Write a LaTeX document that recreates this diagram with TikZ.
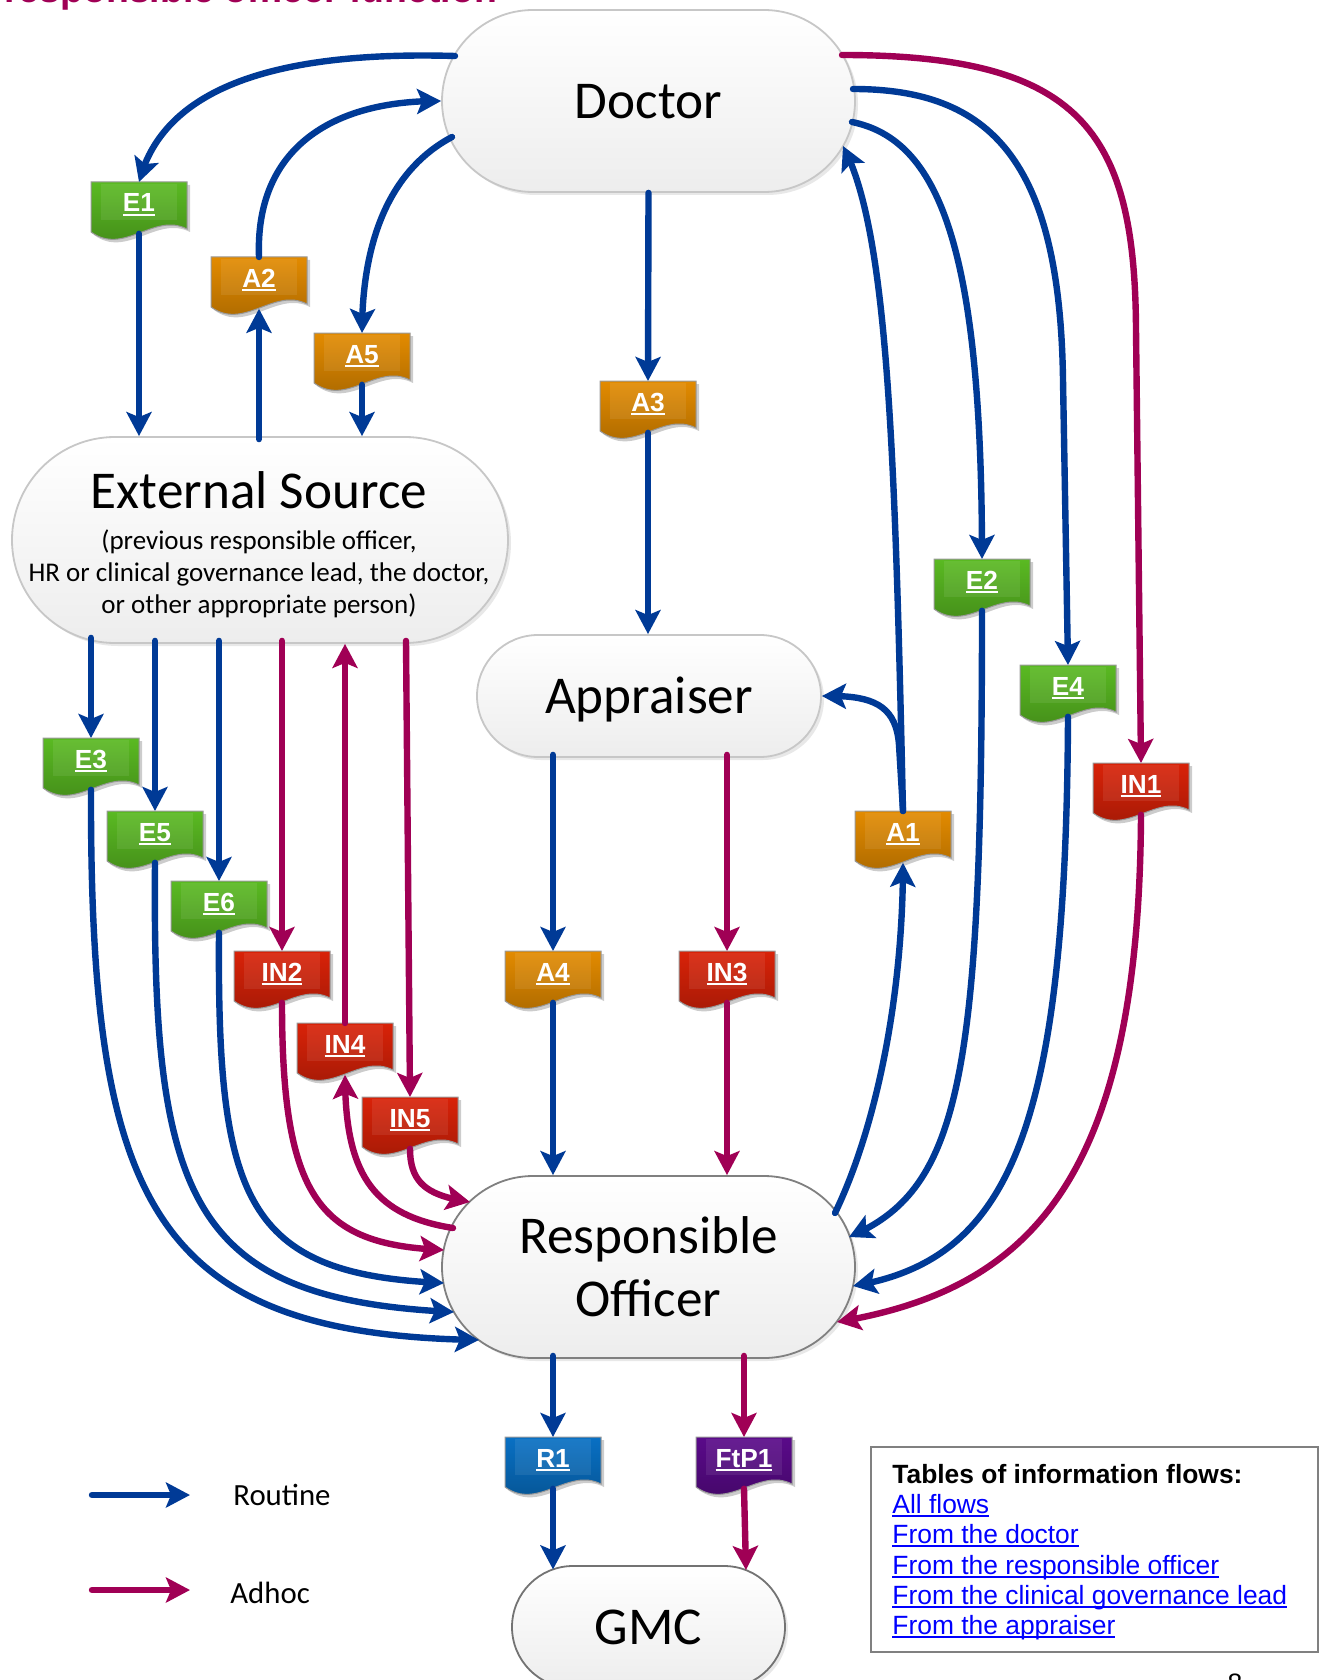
\documentclass[tikz,border=0pt]{standalone}
\usepackage{fontspec}
\setmainfont{Carlito}
\newfontfamily\arialf{Liberation Sans}
\usetikzlibrary{arrows.meta,bending,shadows}
\definecolor{cblue}{RGB}{0,58,150}
\definecolor{cadhoc}{RGB}{160,0,85}
\definecolor{tgreen}{RGB}{90,186,34}
\definecolor{torange}{RGB}{227,139,0}
\definecolor{tred}{RGB}{217,34,8}
\definecolor{tblue}{RGB}{8,112,196}
\definecolor{tpurple}{RGB}{90,10,138}
\definecolor{linkblue}{RGB}{0,0,255}
\definecolor{boxgray}{RGB}{128,128,128}
\newlength\ulwd
\newcommand\tagul[1]{\settowidth\ulwd{#1}\makebox[0pt][l]{\rule[-2.2pt]{\ulwd}{1.3pt}}#1}
\newcommand\linkul[1]{\settowidth\ulwd{#1}\makebox[0pt][l]{\rule[-2pt]{\ulwd}{1pt}}#1}
\newcommand\flowtag[5]{%
  \begin{scope}[shift={(#2,#3)}]
    \fill[black,opacity=.2] (-45,3) -- (51,3) -- (51,50) .. controls (18,33) and (-12,77) .. (-45,53) -- cycle;
    \shade[top color=#4, middle color=#4, bottom color=#4!72!black, draw=black!40, line width=.5pt] (-48,0) -- (48,0) -- (48,47) .. controls (15,30) and (-15,74) .. (-48,50) -- cycle;
    \fill[white,opacity=.08] (-38,2) rectangle (38,38);
  \end{scope}
  \node[tagbox] (#1) at (#2,#3) {};
  \node[taglabel] (#1-l) at ([yshift=-15pt]#1.north) {\tagul{#5}};
}
\begin{document}
\begin{tikzpicture}[x=0.5pt,y=-0.5pt,
  bignode/.style={rectangle, inner sep=0pt, top color=white, bottom color=black!7, line width=0.9pt,
     drop shadow={shadow xshift=1.5pt,shadow yshift=-1.5pt,opacity=0.18},
     font=\fontsize{26.6}{31.5}\selectfont},
  onel/.style={text height=17.1pt, text depth=0pt},
  tagbox/.style={anchor=north, minimum width=48pt, minimum height=25.5pt, inner sep=0pt},
  taglabel/.style={anchor=base, text=white, font=\arialf\bfseries\fontsize{13.1}{15}\selectfont, inner sep=0pt},
  routine/.style={draw=cblue, line width=3.2pt, line cap=round, -{Stealth[length=12pt,width=12.5pt,inset=2.5pt]}},
  adhocarrow/.style={draw=cadhoc, line width=3.2pt, line cap=round, -{Stealth[length=12pt,width=12.5pt,inset=2.5pt]}},
  plaintxt/.style={anchor=base, inner sep=0pt},
  subtxt/.style={anchor=base, inner sep=0pt, font=\fontsize{13.5}{16}\selectfont},
  boxtxt/.style={anchor=base west, inner sep=0pt},
  linktxt/.style={anchor=base west, inner sep=0pt, text=linkblue, font=\arialf\fontsize{13.2}{15}\selectfont}
]
\fill[white] (0,0) rectangle (1324,1680);
\useasboundingbox (0,0) rectangle (1324,1680);

% title (cut off at top, as in the reference)
\node[boxtxt, text=cadhoc, font=\arialf\bfseries\fontsize{18.7}{20}\selectfont] (title) at (4,3) {responsible officer function};

% main nodes
\node[bignode, onel, draw=black!22, minimum width=206.5pt, minimum height=91pt, rounded corners=45.5pt] (doc) at (648.5,101) {Doctor};
\node[bignode, draw=black!22, minimum width=248pt, minimum height=103pt, rounded corners=51.5pt] (ext) at (260,540) {};
\node[plaintxt, font=\fontsize{26.6}{31}\selectfont] (extt) at (259,508) {External Source};
\node[subtxt] (exts1) at (259,549) {(previous responsible officer,};
\node[subtxt] (exts2) at (259,581) {HR or clinical governance lead, the doctor,};
\node[subtxt] (exts3) at (259,613) {or other appropriate person)};
\node[bignode, onel, draw=black!22, minimum width=172pt, minimum height=61pt, rounded corners=30.5pt] (appr) at (649,696) {Appraiser};
\node[bignode, draw=black!50, align=center, minimum width=206.5pt, minimum height=91pt, rounded corners=45.5pt] (ro) at (648.5,1267) {Responsible\\Officer};
\node[bignode, onel, draw=black!55, minimum width=136.5pt, minimum height=61pt, rounded corners=30.5pt] (gmc) at (648.5,1627) {GMC};

% tags
\flowtag{E1}{139}{182}{tgreen}{E1}
\flowtag{A2}{259}{257}{torange}{A2}
\flowtag{A5}{362}{333}{torange}{A5}
\flowtag{A3}{648}{381}{torange}{A3}
\flowtag{E2}{982}{559}{tgreen}{E2}
\flowtag{E4}{1068}{665}{tgreen}{E4}
\flowtag{IN1}{1141}{763}{tred}{IN1}
\flowtag{A1}{903}{811}{torange}{A1}
\flowtag{E3}{91}{738}{tgreen}{E3}
\flowtag{E5}{155}{811}{tgreen}{E5}
\flowtag{E6}{219}{881}{tgreen}{E6}
\flowtag{IN2}{282}{951}{tred}{IN2}
\flowtag{IN4}{345}{1023}{tred}{IN4}
\flowtag{IN5}{410}{1097}{tred}{IN5}
\flowtag{A4}{553}{951}{torange}{A4}
\flowtag{IN3}{727}{951}{tred}{IN3}
\flowtag{R1}{553}{1437}{tblue}{R1}
\flowtag{FtP1}{744}{1437}{tpurple}{FtP1}

% routine connectors
\draw[routine] ([shift={(-193.5,-45)}]doc.center) .. controls (250,50) and (160,100) .. (E1.north);
\draw[routine] (E1.south) -- (E1.south |- ext.north);
\draw[routine] ([yshift=-1.5pt]A2.north |- ext.north) -- (A2.south);
\draw[routine] (A2.north) .. controls (255,150) and (330,100) .. (doc.west);
\draw[routine] ([shift={(-196.5,36)}]doc.center) .. controls (390,170) and (362,240) .. (A5.north);
\draw[routine] (A5.south) -- (A5.south |- ext.north);
\draw[routine] (doc.south) -- (A3.north);
\draw[routine] (A3.south) -- (A3.south |- appr.north);
\draw[routine] ([shift={(203.5,21)}]doc.center) .. controls (940,140) and (982,250) .. (E2.north);
\draw[routine] (E2.south) .. controls (982,1080) and (960,1190) .. ([shift={(200.5,-30)}]ro.center);
\draw[routine] ([shift={(204.5,-12)}]doc.center) .. controls (990,89) and (1060,160) .. (1063,380) -- (E4.north);
\draw[routine] (E4.south) .. controls (1066,1130) and (1010,1260) .. ([shift={(204.5,19)}]ro.center);
\draw[routine] ([shift={(186.5,-54)}]ro.center) .. controls (875,1130) and (903,1000) .. (A1.south);
\draw[routine] (A1.north) .. controls (895,450) and (888,230) .. ([shift={(194.5,45)}]doc.center);
\draw[routine] (A1.north) -- (899,745) .. controls (896,703) and (870,695) .. (appr.east);
\draw[routine] ([yshift=3pt]E3.north |- ext.south) -- (E3.north);
\draw[routine] (E3.south) .. controls (90,1200) and (150,1335) .. ([shift={(-169.5,73)}]ro.center);
\draw[routine] ([yshift=1.5pt]E5.north |- ext.south) -- (E5.north);
\draw[routine] (E5.south) .. controls (152,1200) and (190,1300) .. ([shift={(-194.5,45)}]ro.center);
\draw[routine] ([yshift=1.5pt]E6.north |- ext.south) -- (E6.north);
\draw[routine] (E6.south) .. controls (217,1200) and (245,1275) .. ([shift={(-204.5,16)}]ro.center);
\draw[routine] ([yshift=1.5pt]A4.north |- appr.south) -- (A4.north);
\draw[routine] (A4.south) -- (A4.south |- ro.north);
\draw[routine] ([yshift=1.5pt]R1.north |- ro.south) -- (R1.north);
\draw[routine] (R1.south) -- ([shift={(-95.5,-57.6)}]gmc.center);

% adhoc connectors
\draw[adhocarrow] ([shift={(193.5,-46)}]doc.center) .. controls (1080,55) and (1135,130) .. (1136,330) -- (IN1.north);
\draw[adhocarrow] (IN1.south) .. controls (1139,1180) and (1030,1290) .. ([shift={(188.5,55)}]ro.center);
\draw[adhocarrow] ([yshift=1.5pt]IN2.north |- ext.south) -- (IN2.north);
\draw[adhocarrow] (IN2.south) .. controls (282,1200) and (320,1245) .. ([shift={(-204.5,-17)}]ro.center);
\draw[adhocarrow] ([shift={(-195.5,-39)}]ro.center) .. controls (370,1215) and (345,1170) .. (IN4.south);
\draw[adhocarrow] (IN4.north) -- (IN4.north |- ext.south);
\draw[adhocarrow] ([xshift=-2pt,yshift=1.5pt]IN5.north |- ext.south) -- (IN5.north);
\draw[adhocarrow] (IN5.south) .. controls (410,1185) and (430,1196) .. ([shift={(-178.5,-65)}]ro.center);
\draw[adhocarrow] ([yshift=1.5pt]IN3.north |- appr.south) -- (IN3.north);
\draw[adhocarrow] (IN3.south) -- (IN3.south |- ro.north);
\draw[adhocarrow] ([yshift=1.5pt]FtP1.north |- ro.south) -- (FtP1.north);
\draw[adhocarrow] (FtP1.south) -- ([shift={(97.5,-57)}]gmc.center);

% legend
\coordinate (lr1) at (92,1495);
\coordinate (lr2) at (190,1495);
\coordinate (la1) at (92,1590);
\coordinate (la2) at (190,1590);
\draw[routine] (lr1) -- (lr2);
\draw[adhocarrow] (la1) -- (la2);
\node[boxtxt, font=\fontsize{15.4}{18}\selectfont] (legr) at (233,1505) {Routine};
\node[boxtxt, font=\fontsize{15.4}{18}\selectfont] (lega) at (230,1603) {Adhoc};

% tables box
\node[draw=boxgray, line width=1pt, minimum width=223.5pt, minimum height=102.5pt, inner sep=0pt] (tbl) at (1094.5,1549.5) {};
\node[boxtxt, font=\arialf\bfseries\fontsize{13.2}{15}\selectfont] (tblt) at (892,1483) {Tables of information flows:};
\node[linktxt] (lk1) at (892,1513) {\linkul{All flows}};
\node[linktxt] (lk2) at (892,1543) {\linkul{From the doctor}};
\node[linktxt] (lk3) at (892,1574) {\linkul{From the responsible officer}};
\node[linktxt] (lk4) at (892,1604) {\linkul{From the clinical governance lead}};
\node[linktxt] (lk5) at (892,1634) {\linkul{From the appraiser}};

% page number (cut off, as in the reference)
\node[plaintxt, font=\arialf\fontsize{13.3}{15}\selectfont] (pnum) at (1235,1692) {8};
\end{tikzpicture}
\end{document}
